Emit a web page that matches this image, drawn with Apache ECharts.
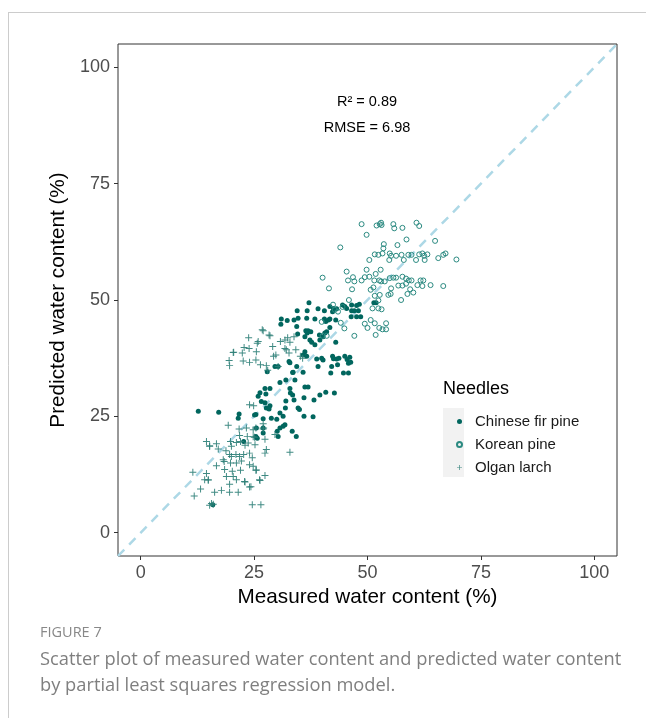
<!DOCTYPE html>
<html><head><meta charset="utf-8">
<script src="https://cdn.jsdelivr.net/npm/echarts@6/dist/echarts.min.js"></script>
<style>html,body{margin:0;padding:0;background:#fff}#c{width:646px;height:718px}</style>
</head><body><div id="c"></div>
<script>
const xTicks = [0, 25, 50, 75, 100];
const yTicks = [0, 25, 50, 75, 100];
const seriesNames = ['Chinese fir pine', 'Korean pine', 'Olgan larch'];

const chineseFir = [
[37.1,49.4],[34.5,47.7],[36.7,47.7],[39.1,48.1],[40.5,47.7],[41.7,48.6],[42.5,48.2],[43.2,48.1],[42.3,47.5],[44.5,48.9],[45.0,48.6],[45.4,48.2],[46.5,48.9],[47.6,48.8],[48.2,49.1],[46.5,47.7],[47.1,47.7],[48.0,47.7],[51.4,49.4],[51.9,49.4],[47.6,46.4],[48.5,46.4],[46.4,46.4],
[31.0,45.9],[30.9,44.8],[32.3,45.6],[33.8,45.7],[34.7,46.1],[36.6,46.1],[38.4,45.9],[40.5,45.9],[41.4,45.7],[40.8,45.4],[41.7,45.9],[43.0,45.7],
[34.4,44.3],[36.4,43.4],[36.9,43.4],[37.5,43.2],[36.7,42.9],[41.7,44.1],[41.0,43.2],[40.6,42.9],[40.2,42.1],[39.4,42.5],[34.6,42.7],[36.2,42.1],[37.3,41.4],[37.7,40.9],[38.4,40.4],[43.0,40.9],[39.5,41.4],
[36.2,38.9],[35.8,38.2],[36.6,37.9],[38.8,37.3],[39.9,37.5],[40.2,37.1],[42.3,37.9],[42.5,37.4],[43.2,37.3],[43.7,37.5],[45.0,37.9],[46.1,37.7],[45.5,37.2],[45.8,36.4],[46.3,36.6],[39.1,35.7],[42.1,35.7],[43.4,36.1],[33.6,34.5],[35.8,34.5],[34.4,35.7],[41.9,34.3],[44.7,34.3],[45.8,34.3],
[27.9,34.6],[32.9,36.5],[33.5,34.4],[30.7,32.3],[32.0,32.8],[34.0,32.8],[32.9,31.0],[33.0,30.0],[33.5,29.6],[33.8,28.5],[36.2,31.3],[36.9,31.3],[36.0,29.0],[38.2,28.5],[39.5,29.6],[40.8,30.2],[42.7,30.0],[27.4,31.0],[28.5,31.0],[26.3,30.1],[25.9,29.3],[27.6,29.8],[32.0,28.3],[29.6,35.7],[30.3,35.7],[32.7,36.8],[26.6,28.2],[27.4,27.9],[28.5,27.3],
[12.7,26.1],[17.2,25.9],[21.7,25.5],[21.5,24.6],[27.7,26.8],[28.3,26.6],[25.4,25.4],[27.0,24.5],[28.8,24.6],[30.0,24.4],[31.4,25.0],[30.7,25.7],[31.9,26.8],[34.7,26.8],[36.0,25.0],[38.0,24.9],[35.0,26.5],[31.8,23.2],[31.4,22.9],[30.7,22.5],[30.1,21.8],[30.3,20.7],[33.4,21.8],[34.3,20.7],[25.5,22.5],[25.4,20.7],[27.0,21.4],[27.0,22.5],[22.7,19.6],[25.7,20.3],[25.1,25.3],[15.9,6.0]
];

const koreanPine = [
[48.7,66.3],[49.8,64.0],[52.0,66.0],[52.7,66.3],[53.0,66.6],[53.1,66.1],[55.7,66.3],[55.9,65.4],[57.7,65.5],[60.8,66.6],[61.4,65.9],[64.9,62.7],[58.6,63.0],[56.6,61.8],[53.6,62.0],[53.5,61.1],
[51.6,59.8],[52.4,59.7],[53.3,60.0],[54.9,60.0],[55.2,59.5],[54.8,58.6],[50.4,58.6],[56.3,59.5],[57.5,59.7],[58.0,58.6],[59.0,59.7],[59.7,59.7],[60.7,58.6],[61.4,59.8],[62.1,60.0],[62.5,59.5],[62.6,58.6],[63.2,59.8],[65.6,59.0],[66.7,59.7],[67.2,60.0],[69.6,58.7],[44.0,61.3],
[45.4,56.1],[46.8,54.9],[47.1,54.0],[45.7,54.2],[48.7,54.2],[49.4,54.9],[49.8,56.5],[50.4,55.0],[51.5,54.2],[51.8,55.6],[52.6,54.2],[52.9,56.5],[53.0,54.0],[53.8,54.0],[54.9,54.7],[55.7,54.8],[56.3,54.8],[57.7,55.0],[58.5,54.6],[59.1,54.2],[59.7,54.2],[61.7,54.2],[62.3,54.2],
[55.2,52.5],[56.8,53.1],[57.7,53.1],[58.5,53.5],[59.4,52.3],[61.0,53.2],[62.1,53.0],[63.9,53.2],[66.7,53.0],[51.3,52.7],[50.7,52.2],[46.6,52.3],[41.5,52.5],[40.1,54.8],
[51.6,50.9],[52.7,51.1],[54.6,51.1],[55.1,51.3],[57.4,50.0],[58.8,51.3],[60.1,51.6],[52.4,49.9],[51.1,48.2],[52.4,48.2],[53.1,48.0],[42.4,49.0],[44.5,48.5],[42.8,47.9],[45.9,50.0],
[49.4,44.9],[50.7,45.7],[51.6,45.0],[52.6,44.0],[53.3,43.7],[54.1,43.7],[54.1,45.0],[50.0,44.0],[51.8,42.5],[47.1,42.3],[40.1,42.3],[41.0,42.3],[39.9,45.3],[44.1,45.1],[44.9,43.9],[43.5,47.5]
];

const olganLarch = [
[27.0,43.4],[28.3,42.5],[23.8,41.9],[25.7,40.7],[22.8,39.8],[23.9,39.6],[20.5,38.8],[22.4,38.6],[25.5,38.9],[19.5,37.0],[19.6,35.9],[22.6,36.9],[24.0,36.6],[25.4,37.1],[26.4,36.1],[27.7,35.9],[28.0,34.9],[29.1,40.0],[29.8,38.2],[29.3,37.9],[30.3,35.7],[30.8,41.1],[31.8,41.4],[32.4,41.9],[32.9,40.9],[31.8,39.6],[32.1,39.3],[33.8,42.1],[34.2,39.3],[32.7,38.6],[35.2,37.9],[35.7,37.5],[26.8,43.6],[28.5,42.3],[25.9,41.1],[20.4,38.7],
[24.0,27.5],[24.9,27.3],[19.3,23.1],[21.7,22.3],[23.3,22.5],[24.8,22.1],[25.4,22.5],[27.0,23.4],[27.0,22.3],[27.4,20.1],[29.6,21.1],[21.8,20.9],[19.8,19.6],[20.0,18.6],[21.1,19.4],[22.0,19.6],[23.0,18.8],[23.7,19.3],[24.8,20.6],[25.2,18.9],[14.5,19.6],[15.2,18.7],[16.7,19.1],[17.1,18.0],[18.8,17.6],[19.6,16.8],[21.0,16.8],[21.8,16.4],[22.7,16.8],[24.0,17.1],[24.6,16.1],[27.4,17.1],[27.7,17.9],[32.9,17.3],
[18.2,15.7],[19.8,15.0],[21.1,15.0],[22.2,15.4],[24.0,14.6],[24.8,14.3],[18.5,13.6],[20.2,13.2],[22.0,13.4],[25.4,13.4],[27.4,12.3],[16.7,14.4],[11.5,13.0],[14.5,12.7],[14.9,11.3],[14.1,11.4],[18.9,12.1],[21.1,11.4],[23.0,10.9],[26.3,11.2],[19.6,10.4],[13.2,9.4],[16.3,8.7],[17.8,9.1],[19.6,8.7],[21.5,8.7],[24.3,9.9],[11.8,7.9],[15.6,6.3],[15.2,5.9],[16.0,6.1],[24.6,6.0],[26.5,6.0],
[23.5,20.7],[25.1,20.5],[27.1,22.5],[15.2,18.5],[18.4,15.3],[20.0,16.4],[25.5,13.5],[26.2,11.4],[20.4,12.1],[22.9,11.0],[24.0,9.8],[14.9,11.4]
];

const identityLine = [[-5, -5], [105, 105]];
const annotations = ['R\u00B2 = 0.89', 'RMSE = 6.98'];

const plusPath = 'path://M0,4.3H10V5.7H0Z M4.3,0H5.7V10H4.3Z';
const FONT = '"Liberation Sans", Arial, sans-serif';

const chart = echarts.init(document.getElementById('c'), null, {renderer: 'canvas'});
chart.setOption({
  animation: false,
  backgroundColor: '#fff',
  grid: {left: 118, right: 29, top: 44, bottom: 162, show: true, borderColor: '#333', borderWidth: 1, backgroundColor: 'transparent'},
  xAxis: {
    type: 'value', min: -5, max: 105,
    name: 'Measured water content (%)', nameLocation: 'middle', nameGap: 31,
    nameTextStyle: {fontSize: 20.7, color: '#000', fontFamily: FONT},
    axisLine: {show: false, onZero: false},
    axisTick: {show: true, length: 4, lineStyle: {color: '#333'}, customValues: xTicks},
    axisLabel: {show: true, margin: 8, fontSize: 18, color: '#4d4d4d', fontFamily: FONT, customValues: xTicks},
    splitLine: {show: false}
  },
  yAxis: {
    type: 'value', min: -5, max: 105,
    name: 'Predicted water content (%)', nameLocation: 'middle', nameGap: 48,
    nameTextStyle: {fontSize: 20.7, color: '#000', fontFamily: FONT},
    axisLine: {show: false, onZero: false},
    axisTick: {show: true, length: 4, lineStyle: {color: '#333'}, customValues: yTicks},
    axisLabel: {show: true, margin: 8, fontSize: 18, color: '#4d4d4d', fontFamily: FONT, customValues: yTicks},
    splitLine: {show: false}
  },
  legend: {
    data: seriesNames, orient: 'vertical', left: 451, top: 408,
    itemWidth: 5, itemHeight: 5, itemGap: 6,
    textStyle: {fontSize: 15, color: '#1a1a1a', fontFamily: FONT, lineHeight: 17, padding: [0, 0, 0, 8]},
    selectedMode: false, z: 10
  },
  graphic: [
    {type: 'line', shape: {x1: 8, y1: 12.5, x2: 646, y2: 12.5}, style: {stroke: '#cccccc', lineWidth: 1}, silent: true},
    {type: 'line', shape: {x1: 8.5, y1: 12.5, x2: 8.5, y2: 718}, style: {stroke: '#cccccc', lineWidth: 1}, silent: true},
    {type: 'rect', shape: {x: 443, y: 408, width: 21, height: 69}, style: {fill: '#f2f2f2'}, z: 1, silent: true},
    {type: 'text', left: 443, top: 380, style: {text: 'Needles', fontSize: 18, fill: '#000', fontFamily: FONT}, z: 5},
    {type: 'text', x: 367, y: 102, style: {text: annotations[0], fontSize: 14.5, fill: '#000', fontFamily: FONT, align: 'center', verticalAlign: 'middle'}, z: 5},
    {type: 'text', x: 367, y: 128, style: {text: annotations[1], fontSize: 14.5, fill: '#000', fontFamily: FONT, align: 'center', verticalAlign: 'middle'}, z: 5},
    {type: 'text', left: 40, top: 625, style: {text: 'FIGURE 7', fontSize: 14.5, fill: '#888888', fontFamily: '"Open Sans", sans-serif'}},
    {type: 'text', left: 40, top: 647, style: {text: 'Scatter plot of measured water content and predicted water content\nby partial least squares regression model.', fontSize: 18.3, lineHeight: 26, fill: '#7f7f7f', fontFamily: '"Open Sans", sans-serif'}}
  ],
  series: [
    {
      name: 'identity', type: 'line', data: identityLine, symbol: 'none', silent: true,
      lineStyle: {color: '#ADD8E6', width: 2.5, type: [9, 7]}, z: 1
    },
    {
      name: seriesNames[0], type: 'scatter', data: chineseFir, symbol: 'circle', symbolSize: 5,
      itemStyle: {color: '#01665E', opacity: 1}, z: 3
    },
    {
      name: seriesNames[1], type: 'scatter', data: koreanPine, symbol: 'circle', symbolSize: 5,
      itemStyle: {color: 'rgba(0,0,0,0)', borderColor: '#2b8a81', borderWidth: 1, opacity: 1}, z: 3
    },
    {
      name: seriesNames[2], type: 'scatter', data: olganLarch, symbol: plusPath, symbolSize: 7,
      itemStyle: {color: '#2a7d75', opacity: 0.9}, z: 3
    }
  ]
});
</script>
</body></html>
